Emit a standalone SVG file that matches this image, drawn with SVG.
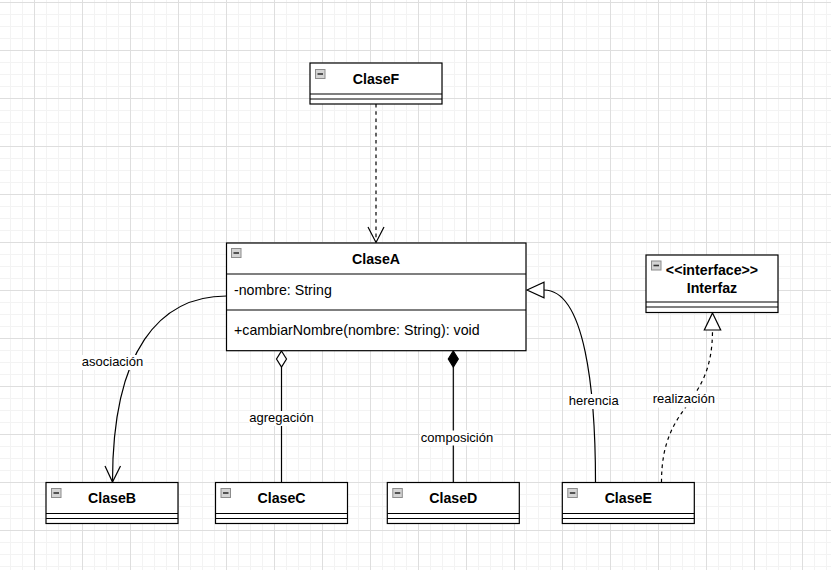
<svg xmlns="http://www.w3.org/2000/svg" width="831" height="570" viewBox="0 0 831 570">
<defs>
<pattern id="grid" x="34" y="2" width="48" height="48" patternUnits="userSpaceOnUse">
<rect x="12" y="0" width="1" height="48" fill="#f3f3f3"/>
<rect x="24" y="0" width="1" height="48" fill="#f3f3f3"/>
<rect x="36" y="0" width="1" height="48" fill="#f3f3f3"/>
<rect x="0" y="12" width="48" height="1" fill="#f3f3f3"/>
<rect x="0" y="24" width="48" height="1" fill="#f3f3f3"/>
<rect x="0" y="36" width="48" height="1" fill="#f3f3f3"/>
<rect x="0" y="0" width="1" height="48" fill="#dedede"/>
<rect x="0" y="0" width="48" height="1" fill="#dedede"/>
</pattern>
<g id="icon">
<rect x="0" y="0" width="9.5" height="9" fill="#d4d4d4" stroke="#8c8c8c" stroke-width="1"/>
<line x1="2" y1="4.5" x2="7.5" y2="4.5" stroke="#333" stroke-width="1.6"/>
</g>
</defs>
<style>
.box{fill:#fff;stroke:#000;stroke-width:1.2}
.sep{stroke:#000;stroke-width:1.2;fill:none}
.title{font-family:"Liberation Sans",Arial,sans-serif;font-size:14.2px;font-weight:bold;fill:#000;text-anchor:middle}
.member{font-family:"Liberation Sans",Arial,sans-serif;font-size:14.2px;fill:#000}
.edge{fill:none;stroke:#000;stroke-width:1.2}
.dash{stroke-dasharray:3.6 3.6}
.lbl{font-family:"Liberation Sans",Arial,sans-serif;font-size:13px;fill:#000;text-anchor:middle}
.lblbg{fill:#fff}
</style>
<rect x="0" y="0" width="831" height="570" fill="#fff"/>
<rect x="0" y="0" width="831" height="570" fill="url(#grid)"/>

<g id="connectors">
<!-- dependency ClaseF -> ClaseA -->
<line class="edge dash" x1="376" y1="104" x2="376" y2="242"/>
<polyline class="edge" points="368,227 376,242.5 384,227"/>
<!-- asociacion -->
<path class="edge" d="M226.5,296 C160,296 112.5,350 112.5,481.5"/>
<polyline class="edge" points="105,466 112.5,482 120.5,466"/>
<rect class="lblbg" x="80" y="355" width="65" height="15"/>
<text class="lbl" x="112.5" y="366">asociación</text>
<!-- agregacion -->
<line class="edge" x1="281.5" y1="367" x2="281.5" y2="482.5"/>
<polygon class="edge" fill="#fff" points="281.5,351 286.5,359 281.5,367 276.5,359" style="fill:#fff"/>
<rect class="lblbg" x="249" y="411" width="65" height="15"/>
<text class="lbl" x="281.5" y="422.3">agregación</text>
<!-- composicion -->
<line class="edge" x1="453.3" y1="367" x2="453.3" y2="482.5"/>
<polygon points="453.3,351 458.3,359 453.3,367 448.3,359" fill="#000" stroke="#000" stroke-width="1.2"/>
<rect class="lblbg" x="420" y="430.5" width="74" height="15"/>
<text class="lbl" x="457" y="441.7">composición</text>
<!-- herencia -->
<path class="edge" d="M595.5,482.5 C595.5,390 585,290 544,290"/>
<polygon points="527,290 544,282.3 544,297.7" fill="#fff" stroke="#000" stroke-width="1.2"/>
<rect class="lblbg" x="568" y="394" width="51" height="15"/>
<text class="lbl" x="593.7" y="405">herencia</text>
<!-- realizacion -->
<path class="edge dash" d="M661.5,482.5 C661.5,400 712.5,410 712.5,330"/>
<polygon points="712.5,313 720.7,330 704.3,330" fill="#fff" stroke="#000" stroke-width="1.2"/>
<rect class="lblbg" x="652" y="392.5" width="64" height="15"/>
<text class="lbl" x="683.8" y="403.3">realización</text>
</g>

<g id="ClaseF">
<rect class="box" x="310" y="63" width="132" height="41"/>
<line class="sep" x1="310" y1="94" x2="442" y2="94"/>
<line class="sep" x1="310" y1="99" x2="442" y2="99"/>
<use href="#icon" x="315.5" y="69.5"/>
<text class="title" x="376" y="83.5">ClaseF</text>
</g>

<g id="ClaseA">
<rect class="box" x="226.5" y="243" width="299.5" height="107.7"/>
<line class="sep" x1="226.5" y1="274" x2="526" y2="274"/>
<line class="sep" x1="226.5" y1="310" x2="526" y2="310"/>
<use href="#icon" x="231.5" y="248.5"/>
<text class="title" x="376" y="264">ClaseA</text>
<text class="member" x="234" y="295">-nombre: String</text>
<text class="member" x="234" y="335">+cambiarNombre(nombre: String): void</text>
</g>

<g id="Interfaz">
<rect class="box" x="646" y="255" width="132" height="57.5"/>
<line class="sep" x1="646" y1="302" x2="778" y2="302"/>
<line class="sep" x1="646" y1="307" x2="778" y2="307"/>
<use href="#icon" x="651.5" y="261"/>
<text class="title" x="712" y="274.5">&lt;&lt;interface&gt;&gt;</text>
<text class="title" x="712" y="293">Interfaz</text>
</g>

<g id="ClaseB">
<rect class="box" x="46" y="482.5" width="132" height="41"/>
<line class="sep" x1="46" y1="513.5" x2="178" y2="513.5"/>
<line class="sep" x1="46" y1="518.5" x2="178" y2="518.5"/>
<use href="#icon" x="51.5" y="488.5"/>
<text class="title" x="112" y="503">ClaseB</text>
</g>

<g id="ClaseC">
<rect class="box" x="215.5" y="482.5" width="132" height="41"/>
<line class="sep" x1="215.5" y1="513.5" x2="347.5" y2="513.5"/>
<line class="sep" x1="215.5" y1="518.5" x2="347.5" y2="518.5"/>
<use href="#icon" x="221" y="488.5"/>
<text class="title" x="281.5" y="503">ClaseC</text>
</g>

<g id="ClaseD">
<rect class="box" x="387.3" y="482.5" width="132" height="41"/>
<line class="sep" x1="387.3" y1="513.5" x2="519.3" y2="513.5"/>
<line class="sep" x1="387.3" y1="518.5" x2="519.3" y2="518.5"/>
<use href="#icon" x="392.8" y="488.5"/>
<text class="title" x="453.3" y="503">ClaseD</text>
</g>

<g id="ClaseE">
<rect class="box" x="562.3" y="482.5" width="132" height="41"/>
<line class="sep" x1="562.3" y1="513.5" x2="694.3" y2="513.5"/>
<line class="sep" x1="562.3" y1="518.5" x2="694.3" y2="518.5"/>
<use href="#icon" x="567.8" y="488.5"/>
<text class="title" x="628.3" y="503">ClaseE</text>
</g>
</svg>
